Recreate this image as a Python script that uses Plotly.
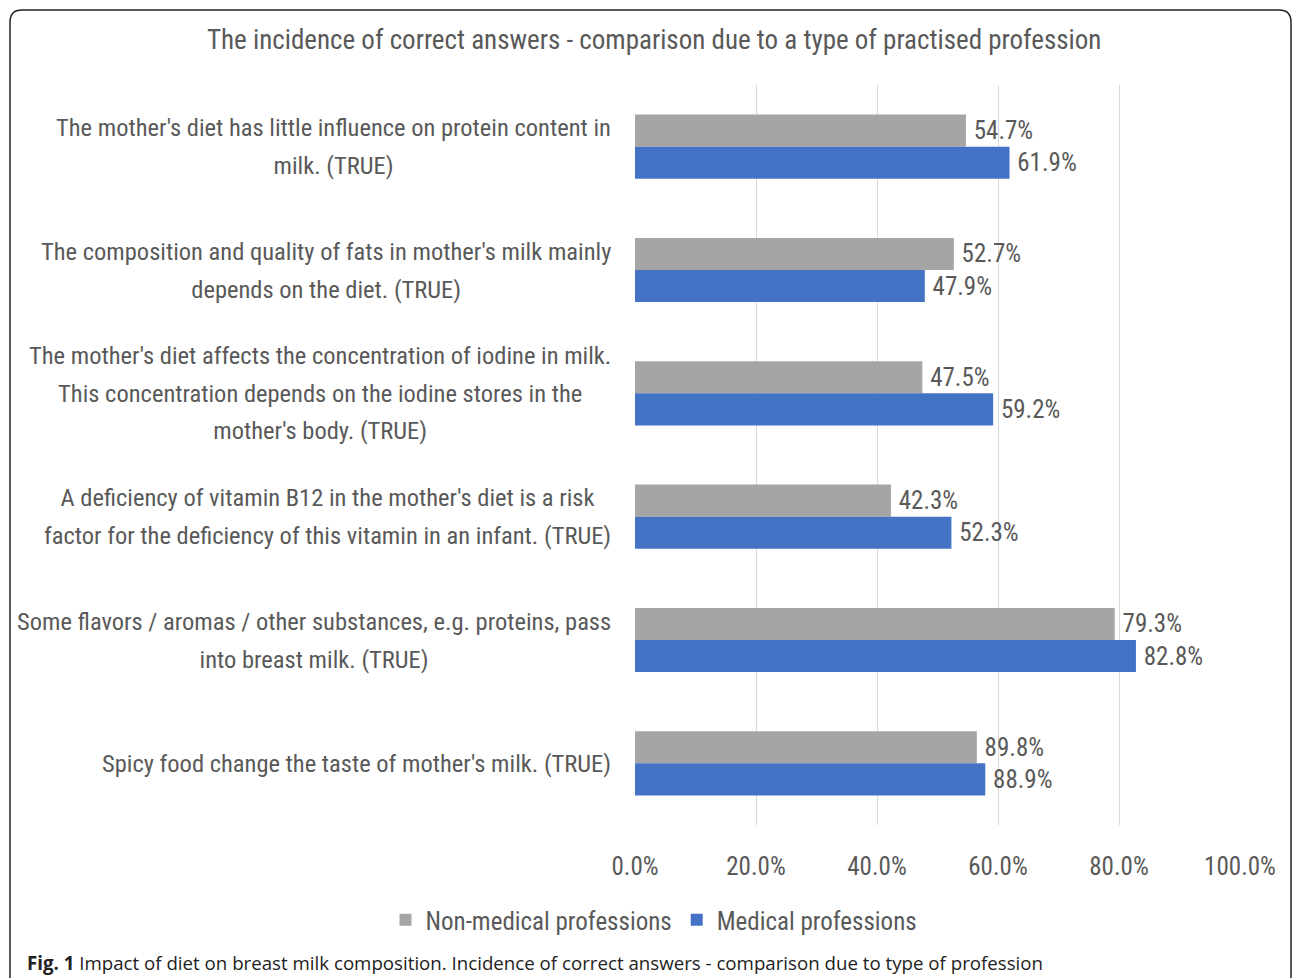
import plotly.graph_objects as go

CATEGORIAS = [
    "The mother's diet has little influence on protein content in<br>milk. (TRUE)",
    "The composition and quality of fats in mother's milk mainly<br>depends on the diet. (TRUE)",
    "The mother's diet affects the concentration of iodine in milk.<br>This concentration depends on the iodine stores in the<br>mother's body. (TRUE)",
    "A deficiency of vitamin B12 in the mother's diet is a risk<br>factor for the deficiency of this vitamin in an infant. (TRUE)",
    "Some flavors / aromas / other substances, e.g. proteins, pass<br>into breast milk. (TRUE)",
    "Spicy food change the taste of mother's milk. (TRUE)",
]
# bar lengths as drawn in the picture (fraction of 1)
NO_MEDICAS = [0.547, 0.527, 0.475, 0.423, 0.793, 0.565]
MEDICAS = [0.619, 0.479, 0.592, 0.523, 0.828, 0.579]
# data labels as printed in the picture
NO_MEDICAS_TXT = ["54.7%", "52.7%", "47.5%", "42.3%", "79.3%", "89.8%"]
MEDICAS_TXT = ["61.9%", "47.9%", "59.2%", "52.3%", "82.8%", "88.9%"]
X_TICKS = [0, 0.2, 0.4, 0.6, 0.8, 1.0]
X_TICK_TXT = ["0.0%", "20.0%", "40.0%", "60.0%", "80.0%", "100.0%"]

GRIS = "#a5a5a5"
AZUL = "#4472c4"
TXT = "#595959"
FUENTE = "Liberation Sans Narrow, Roboto Condensed, Arial Narrow, sans-serif"

W, H = 1292, 978
ML, MR, MT, MB = 635, 52, 85, 153


def px(x):
    return (x - ML) / (W - ML - MR)


def py(y):
    return (H - MB - y) / (H - MT - MB)


fig = go.Figure()
fig.add_trace(
    go.Bar(
        y=CATEGORIAS,
        x=NO_MEDICAS,
        orientation="h",
        name="Non-medical professions",
        marker=dict(color=GRIS, line=dict(width=0)),
        text=["\u2009" + t for t in NO_MEDICAS_TXT],
        textposition="outside",
        textfont=dict(color=TXT, size=25, family=FUENTE),
        cliponaxis=False,
    )
)
fig.add_trace(
    go.Bar(
        y=CATEGORIAS,
        x=MEDICAS,
        orientation="h",
        name="Medical professions",
        marker=dict(color=AZUL, line=dict(width=0)),
        text=["\u2009" + t for t in MEDICAS_TXT],
        textposition="outside",
        textfont=dict(color=TXT, size=25, family=FUENTE),
        cliponaxis=False,
    )
)

# category labels, centred lines right-aligned to the axis
# (big annotation font sets the line spacing, inner span sets the glyph size)
for c in CATEGORIAS:
    lineas = "<br>".join(
        f"<span style='font-size:24.5px'>{t}</span>" for t in c.split("<br>")
    )
    fig.add_annotation(
        x=0, xref="paper", xshift=-22, y=c, yref="y",
        text=lineas, showarrow=False, xanchor="right", align="center",
        font=dict(color=TXT, size=29, family=FUENTE),
    )

fig.add_annotation(
    x=px(654), y=py(40), xref="paper", yref="paper",
    text="The incidence of correct answers - comparison due to a type of practised profession",
    showarrow=False, xanchor="center", yanchor="middle",
    font=dict(color=TXT, size=27, family=FUENTE),
)
fig.add_annotation(
    x=px(25), y=py(962), xref="paper", yref="paper",
    text="<b>Fig. 1</b> Impact of diet on breast milk composition. Incidence of correct answers - comparison due to type of profession",
    showarrow=False, xanchor="left", yanchor="middle",
    font=dict(color="#222222", size=18.7, family="Open Sans, sans-serif"),
)

# rounded frame around the figure
r = 12
x0, y0, x1, y1 = px(10), py(10), px(1291), py(990)
fig.add_shape(
    type="path", xref="paper", yref="paper",
    path=(
        f"M {x0} {y1} L {x0} {py(10 + r)} Q {x0} {y0} {px(10 + r)} {y0} "
        f"L {px(1291 - r)} {y0} Q {x1} {y0} {x1} {py(10 + r)} L {x1} {y1}"
    ),
    line=dict(color="#222222", width=1.5),
)

fig.update_layout(
    width=W,
    height=H,
    margin=dict(l=ML, r=MR, t=MT, b=MB, autoexpand=False),
    barmode="group",
    bargap=0.48,
    bargroupgap=0,
    plot_bgcolor="white",
    paper_bgcolor="white",
    font=dict(family=FUENTE, color=TXT, size=25),
    xaxis=dict(
        range=[0, 1.0],
        tickvals=X_TICKS,
        ticktext=X_TICK_TXT,
        showgrid=True,
        gridcolor="#d9d9d9",
        gridwidth=1,
        zeroline=False,
        showline=False,
        ticks="",
        ticklabelstandoff=24,
        tickfont=dict(color=TXT, size=25, family=FUENTE),
    ),
    yaxis=dict(
        autorange="reversed",
        showticklabels=False,
        showgrid=False,
        zeroline=False,
        showline=False,
        ticks="",
    ),
    legend=dict(
        orientation="h",
        x=px(654), xanchor="center",
        y=py(920), yanchor="middle",
        font=dict(color=TXT, size=25, family=FUENTE),
        traceorder="normal",
    ),
)

fig.write_html(
    "out.html",
    config={"displayModeBar": False},
    post_script="document.body.style.margin='0';",
)
